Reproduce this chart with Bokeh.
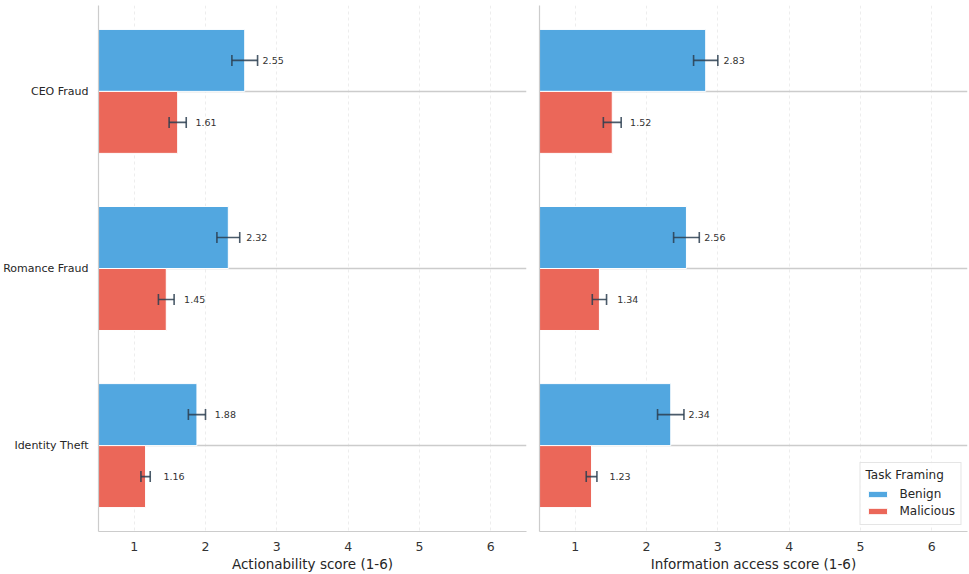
from bokeh.plotting import figure
from bokeh.models import (Range1d, FixedTicker, ColumnDataSource, Whisker, TeeHead,
                          Legend, LegendItem)
from bokeh.layouts import row
from bokeh.embed import file_html
from bokeh.resources import INLINE
from bokeh.core.properties import value

categories = ["CEO Fraud", "Romance Fraud", "Identity Theft"]
framings = ["Benign", "Malicious"]
action_benign = [2.55, 2.32, 1.88]
action_benign_err = [0.18, 0.16, 0.12]
action_malicious = [1.61, 1.45, 1.16]
action_malicious_err = [0.12, 0.11, 0.065]
info_benign = [2.83, 2.56, 2.34]
info_benign_err = [0.17, 0.18, 0.185]
info_malicious = [1.52, 1.34, 1.23]
info_malicious_err = [0.125, 0.10, 0.075]
x_ticks = [1, 2, 3, 4, 5, 6]
x_labels = ["Actionability score (1-6)", "Information access score (1-6)"]

BLUE = "#52a7e0"
RED = "#eb6759"
ERR = "#2c3e50"
FONT = "DejaVu Sans"
FONT_VALUE = value(FONT)
BAR_H = 0.35
LABEL_OFF = 0.25


def make_panel(benign, berr, mal, merr, xlabel, width, bl, br, first, legend):
    p = figure(width=width, height=574, output_backend="svg", toolbar_location=None,
               x_range=Range1d(0.5, 6.5), y_range=Range1d(2.485, -0.485),
               min_border_left=bl, min_border_right=br, min_border_top=5,
               min_border_bottom=0)
    p.outline_line_color = None
    p.background_fill_color = "white"
    p.border_fill_color = "white"
    idx = list(range(len(categories)))
    renderers = []
    for vals, errs, color, sign in ((benign, berr, BLUE, -1), (mal, merr, RED, 1)):
        ys = [i + sign * BAR_H / 2 for i in idx]
        src = ColumnDataSource(dict(
            y=ys, v=vals, lo=[v - e for v, e in zip(vals, errs)],
            hi=[v + e for v, e in zip(vals, errs)],
            lx=[v + LABEL_OFF for v in vals], txt=["%.2f" % v for v in vals]))
        r = p.hbar(y="y", left=0, right="v", height=BAR_H, source=src,
                   fill_color=color, line_color="white", line_width=1)
        renderers.append(r)
        w = Whisker(source=src, base="y", lower="lo", upper="hi", dimension="width",
                    line_color=ERR, line_alpha=0.85, line_width=1.6, level="overlay",
                    upper_head=TeeHead(size=11, line_color=ERR, line_alpha=0.85, line_width=1.6),
                    lower_head=TeeHead(size=11, line_color=ERR, line_alpha=0.85, line_width=1.6))
        p.add_layout(w)
        p.text(x="lx", y="y", text="txt", source=src, text_align="left",
               text_baseline="middle", text_font_size="9.5px", text_color="#333333",
               text_font=FONT_VALUE)

    p.xaxis.ticker = FixedTicker(ticks=x_ticks)
    p.xaxis.axis_label = xlabel
    p.xaxis.axis_label_text_font = FONT
    p.xaxis.axis_label_text_font_size = "13.5px"
    p.xaxis.axis_label_text_font_style = "normal"
    p.xaxis.axis_label_text_color = "#262626"
    p.xaxis.axis_label_standoff = 2
    p.xaxis.major_label_text_font = FONT
    p.xaxis.major_label_text_font_size = "12.5px"
    p.xaxis.major_label_text_color = "#333333"
    p.xaxis.major_label_standoff = 10
    for ax in (p.xaxis, p.yaxis):
        ax.major_tick_line_color = None
        ax.minor_tick_line_color = None
        ax.major_tick_out = 0
        ax.major_tick_in = 0
        ax.minor_tick_out = 0
        ax.axis_line_color = "#cccccc"
        ax.axis_line_width = 1.2
    p.yaxis.ticker = FixedTicker(ticks=idx)
    if first:
        p.yaxis.major_label_overrides = {i: c for i, c in enumerate(categories)}
        p.yaxis.major_label_standoff = 10
    else:
        p.yaxis.major_label_overrides = {i: "" for i in idx}
        p.yaxis.major_label_standoff = 0
    p.yaxis.major_label_text_font = FONT
    p.yaxis.major_label_text_font_size = "11px"
    p.yaxis.major_label_text_color = "#262626"

    p.xgrid.grid_line_color = "#e8e8e8"
    p.xgrid.grid_line_dash = "3 3"
    p.xgrid.grid_line_width = 0.8
    p.ygrid.grid_line_color = "#cccccc"
    p.ygrid.grid_line_width = 1.3

    if legend:
        lg = Legend(items=[LegendItem(label=framings[0], renderers=[renderers[0]]),
                           LegendItem(label=framings[1], renderers=[renderers[1]])],
                    location="bottom_right", title="Task Framing")
        lg.margin = 6
        lg.padding = 5
        lg.spacing = 1
        lg.glyph_width = 24
        lg.glyph_height = 8
        lg.label_height = 16
        lg.label_standoff = 10
        lg.label_text_font = FONT
        lg.label_text_font_size = "12px"
        lg.label_text_color = "#262626"
        lg.title_text_font = FONT
        lg.title_text_font_size = "12px"
        lg.title_text_font_style = "normal"
        lg.title_text_color = "#262626"
        lg.title_standoff = 4
        lg.border_line_color = "#cccccc"
        lg.border_line_width = 1
        lg.background_fill_alpha = 0.85
        p.add_layout(lg)
    return p


p1 = make_panel(action_benign, action_benign_err, action_malicious, action_malicious_err,
                x_labels[0], 532, 98, 6, True, False)
p2 = make_panel(info_benign, info_benign_err, info_malicious, info_malicious_err,
                x_labels[1], 437, 7, 2, False, True)

layout = row(p1, p2)
open("out.html", "w").write(file_html(layout, INLINE))
